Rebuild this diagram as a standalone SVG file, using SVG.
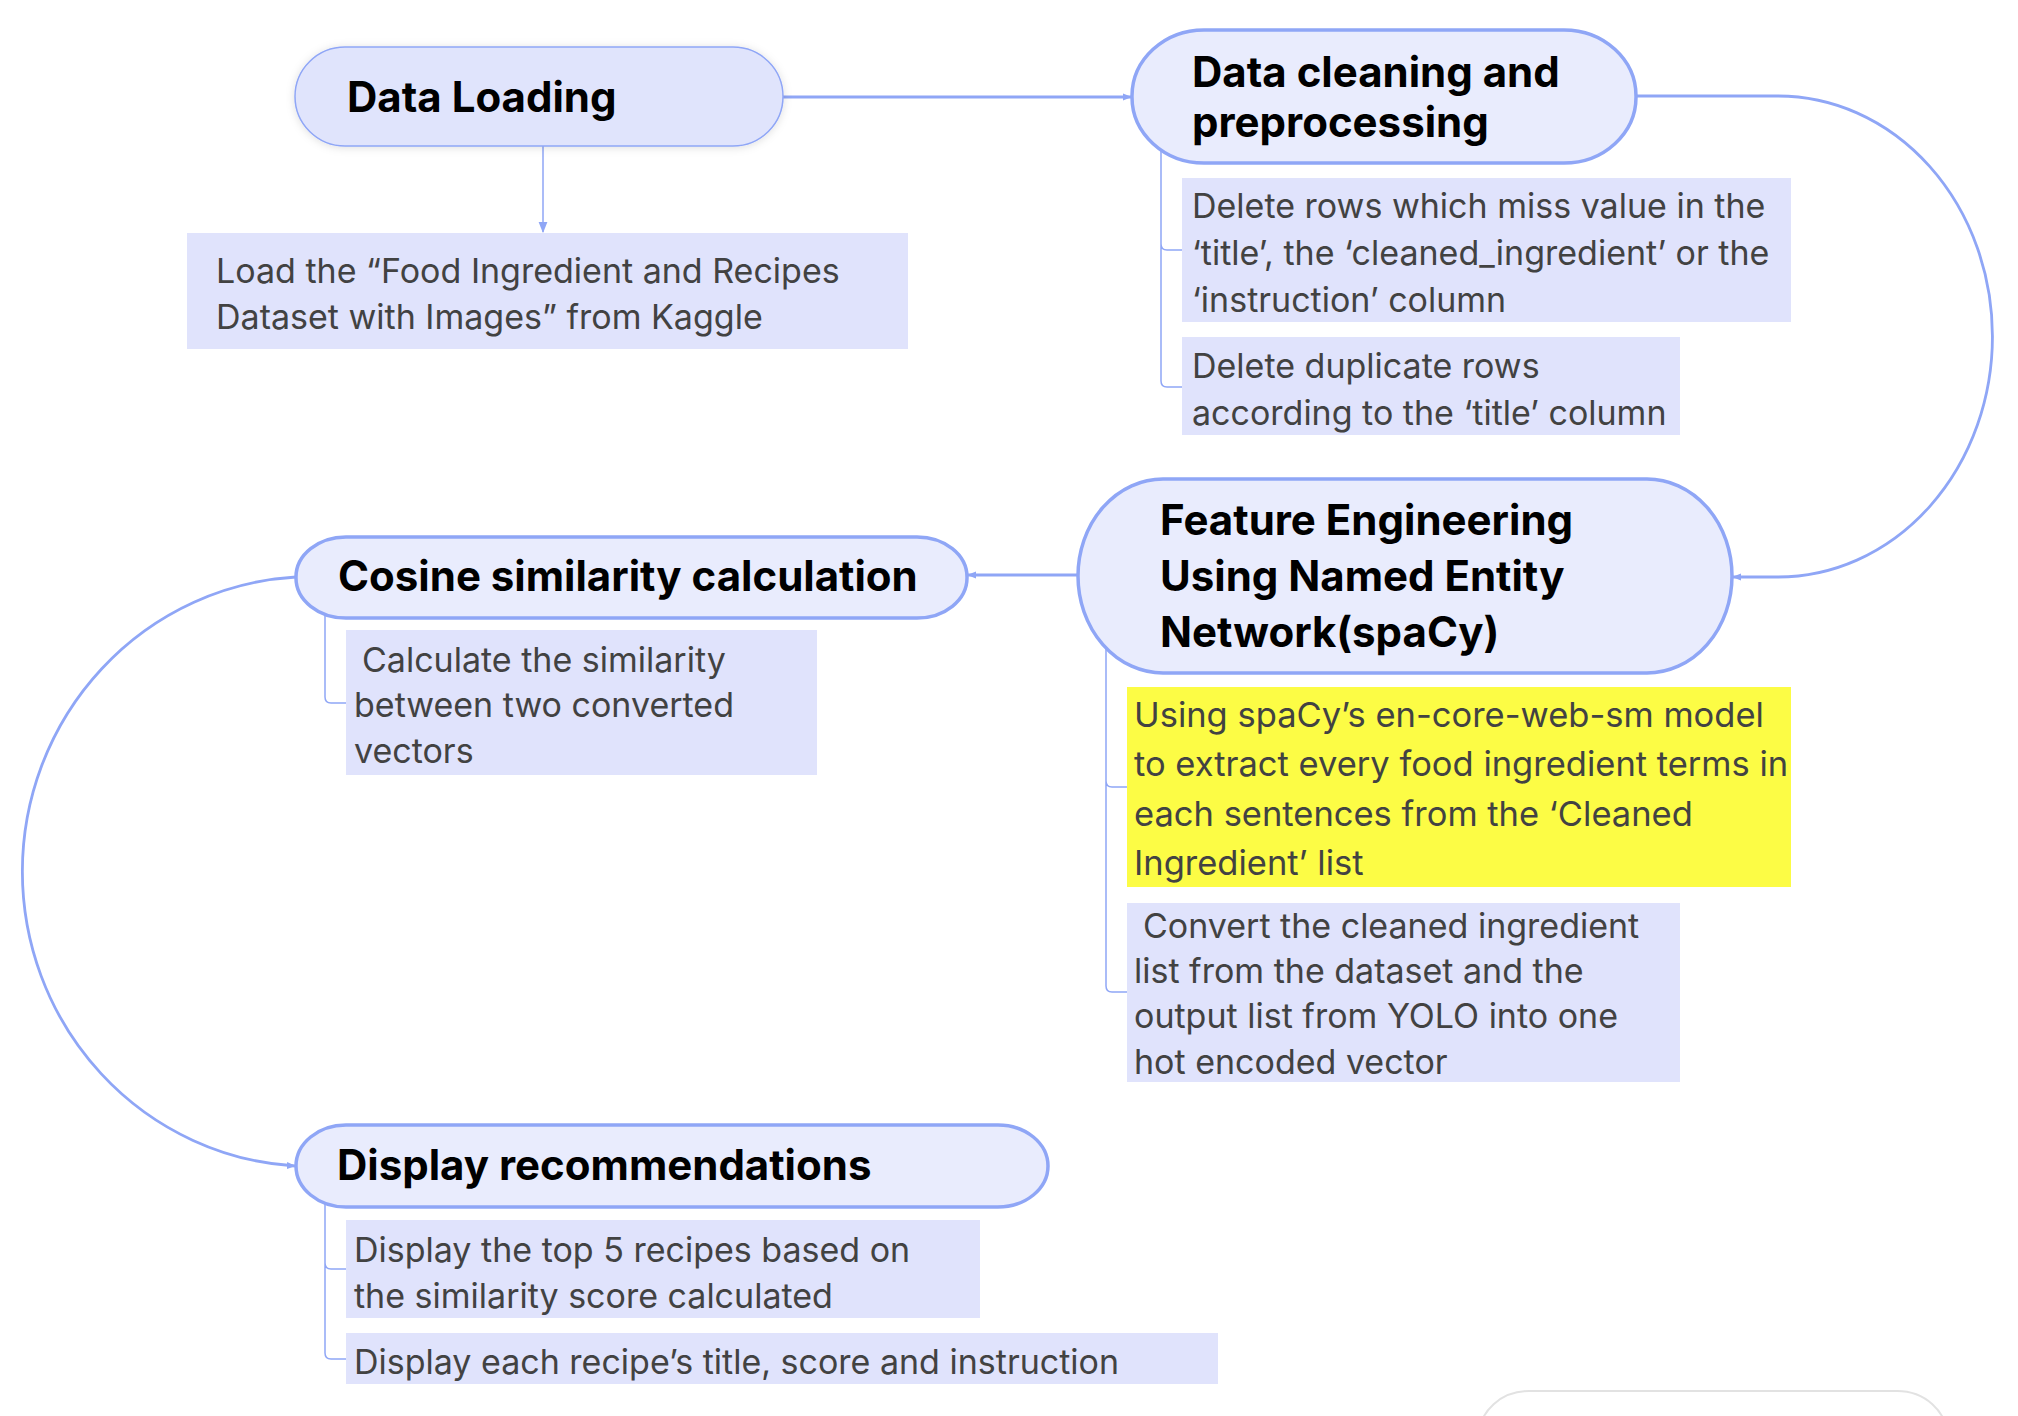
<svg xmlns="http://www.w3.org/2000/svg" width="2018" height="1416" viewBox="0 0 2018 1416">
<defs>
<style>
.head{font-family:Inter,"Liberation Sans",sans-serif;font-weight:700;font-size:42px;fill:#000}
.body{font-family:Inter,"Liberation Sans",sans-serif;font-size:34px;fill:#424242}
.yel{font-size:34.5px}
.box{fill:#E0E3FC}
.node{fill:#E9ECFD;stroke:#8FA6F6;stroke-width:3.5}
.conn{fill:none;stroke:#8FA6F6;stroke-width:2.8}
.thin{fill:none;stroke:#8FA6F6;stroke-width:1.5}
</style>
<marker id="arr" viewBox="0 0 10 10" refX="9" refY="5" markerWidth="9" markerHeight="9" markerUnits="userSpaceOnUse" orient="auto">
<path d="M0 1 L10 5 L0 9 Z" fill="#8FA6F6"/>
</marker>
<marker id="arrS" viewBox="0 0 10 10" refX="9" refY="5" markerWidth="11" markerHeight="11" markerUnits="userSpaceOnUse" orient="auto">
<path d="M0 1 L10 5 L0 9 Z" fill="#8FA6F6"/>
</marker>
<filter id="sh" x="-10%" y="-20%" width="120%" height="140%">
<feDropShadow dx="0" dy="1" stdDeviation="4" flood-color="#000" flood-opacity="0.13"/>
</filter>
</defs>
<rect width="2018" height="1416" fill="#fff"/>

<g id="connectors">
<path class="conn" d="M783 97 H1131" marker-end="url(#arr)"/>
<path class="thin" d="M543 146 V232" marker-end="url(#arrS)"/>
<path class="conn" d="M1636 96 H1778 A 214 240 0 0 1 1778 577 H1733" marker-end="url(#arr)"/>
<path class="conn" d="M1078 575 H968" marker-end="url(#arr)"/>
<path class="conn" d="M296 577 A 290 295 0 0 0 295 1166" marker-end="url(#arr)"/>
<path class="thin" d="M1161 140 V244 Q1161 250 1167 250 H1182 M1161 244 V381 Q1161 387 1167 387 H1182"/>
<path class="thin" d="M1106 640 V781 Q1106 787 1112 787 H1128 M1106 781 V986 Q1106 992 1112 992 H1128"/>
<path class="thin" d="M325 600 V697 Q325 703 331 703 H347"/>
<path class="thin" d="M325 1190 V1263 Q325 1269 331 1269 H346 M325 1263 V1353 Q325 1359 331 1359 H346"/>
</g>

<g id="data-loading">
<rect x="295" y="47" width="488" height="99" rx="50" ry="50" fill="#E0E4FC" stroke="#8FA6F6" stroke-width="1.5" filter="url(#sh)"/>
<text class="head" x="347" y="112">Data Loading</text>
</g>
<g id="load-desc">
<rect class="box" x="187" y="233" width="721" height="116"/>
<text class="body" x="216" y="283">Load the “Food Ingredient and Recipes</text>
<text class="body" x="216" y="329">Dataset with Images” from Kaggle</text>
</g>

<g id="data-cleaning">
<rect class="node" x="1132" y="30" width="504" height="133" rx="72" ry="66"/>
<text class="head" x="1192" y="87">Data cleaning and</text>
<text class="head" x="1192" y="137">preprocessing</text>
</g>
<g id="clean-desc-1">
<rect class="box" x="1182" y="178" width="609" height="144"/>
<text class="body" x="1192" y="218">Delete rows which miss value in the</text>
<text class="body" x="1192" y="265">‘title’, the ‘cleaned_ingredient’ or the</text>
<text class="body" x="1192" y="312">‘instruction’ column</text>
</g>
<g id="clean-desc-2">
<rect class="box" x="1182" y="337" width="498" height="98"/>
<text class="body" x="1192" y="378">Delete duplicate rows</text>
<text class="body" x="1192" y="425">according to the ‘title’ column</text>
</g>

<g id="feature-engineering">
<rect class="node" x="1078" y="479" width="654" height="194" rx="85" ry="97"/>
<text class="head" x="1160" y="535">Feature Engineering</text>
<text class="head" x="1160" y="591">Using Named Entity</text>
<text class="head" x="1160" y="647">Network(spaCy)</text>
</g>
<g id="feature-desc-1">
<rect x="1127" y="687" width="664" height="200" fill="#FCFC45"/>
<text class="body yel" x="1134" y="727">Using spaCy’s en-core-web-sm model</text>
<text class="body yel" x="1134" y="776">to extract every food ingredient terms in</text>
<text class="body yel" x="1134" y="826">each sentences from the ‘Cleaned</text>
<text class="body yel" x="1134" y="875">Ingredient’ list</text>
</g>
<g id="feature-desc-2">
<rect class="box" x="1127" y="903" width="553" height="179"/>
<text class="body" x="1143" y="938">Convert the cleaned ingredient</text>
<text class="body" x="1134" y="983">list from the dataset and the</text>
<text class="body" x="1134" y="1028">output list from YOLO into one</text>
<text class="body" x="1134" y="1074">hot encoded vector</text>
</g>

<g id="cosine-similarity">
<rect class="node" x="296" y="537" width="671" height="81" rx="50" ry="40"/>
<text class="head" x="338" y="591">Cosine similarity calculation</text>
</g>
<g id="cosine-desc">
<rect class="box" x="346" y="630" width="471" height="145"/>
<text class="body" x="362" y="672">Calculate the similarity</text>
<text class="body" x="354" y="717">between two converted</text>
<text class="body" x="354" y="763">vectors</text>
</g>

<g id="display-recommendations">
<rect class="node" x="296" y="1125" width="752" height="82" rx="50" ry="41"/>
<text class="head" x="337" y="1180">Display recommendations</text>
</g>
<g id="display-desc-1">
<rect class="box" x="346" y="1220" width="634" height="98"/>
<text class="body" x="354" y="1262">Display the top 5 recipes based on</text>
<text class="body" x="354" y="1308">the similarity score calculated</text>
</g>
<g id="display-desc-2">
<rect class="box" x="346" y="1333" width="872" height="51"/>
<text class="body" x="354" y="1374">Display each recipe’s title, score and instruction</text>
</g>

<g id="partial-node">
<rect x="1479" y="1391" width="468" height="90" rx="50" ry="45" fill="#fff" stroke="#E2E2E2" stroke-width="2"/>
</g>
</svg>
